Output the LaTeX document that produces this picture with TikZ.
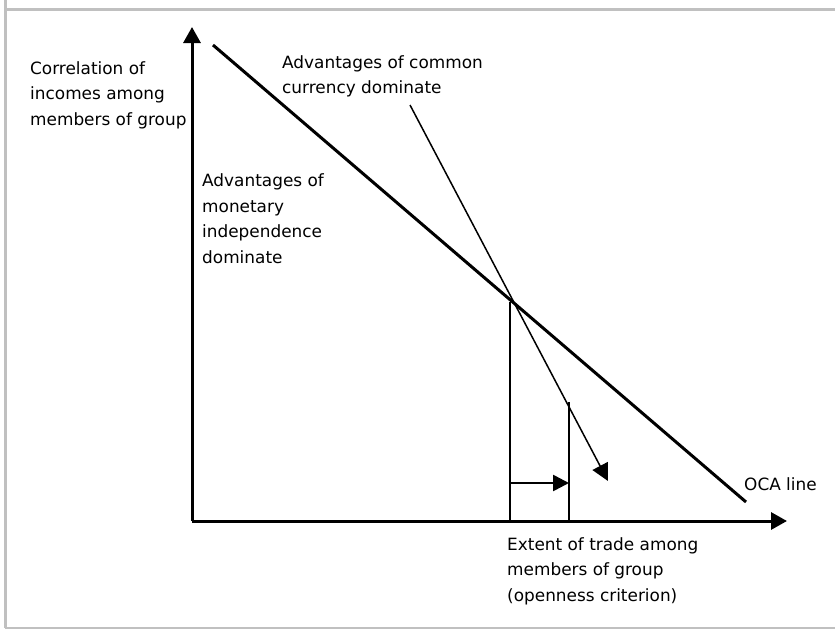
\documentclass[tikz,border=0pt]{standalone}
\usepackage{fontspec}
\setmainfont{DejaVu Sans}
\usetikzlibrary{arrows.meta}
\definecolor{framegray}{RGB}{192,192,192}
\tikzset{
  frameline/.style={draw=framegray, line width=3pt},
  axisline/.style={draw=black, line width=3pt, -{Triangle[length=16pt,width=17pt]}},
  thickline/.style={draw=black, line width=3pt},
  vline/.style={draw=black, line width=2.6pt},
  thinarrow/.style={draw=black, line width=1.5pt, -{Triangle[length=17pt,width=17pt]}},
  shiftarrow/.style={draw=black, line width=2.6pt, -{Triangle[length=16pt,width=16pt]}},
  lbl/.style={inner sep=0pt, align=left, anchor=base west, font=\fontsize{16.9}{25.4}\selectfont},
}
\begin{document}
\begin{tikzpicture}[x=1pt,y=-1pt]
\useasboundingbox (0,0) rectangle (835,629);
\fill[white] (0,0) rectangle (835,629);
% frame
\coordinate (f1) at (5,0);
\coordinate (f2) at (5,628);
\coordinate (f3) at (835,628);
\coordinate (f4) at (5,9);
\coordinate (f5) at (835,9);
\draw[frameline] (f1) -- (f2);
\draw[frameline, line width=2pt] (f2) -- (f3);
\draw[frameline] (f4) -- (f5);
% axes
\coordinate (O) at (192,521);
\coordinate (ytip) at (192,27);
\coordinate (xtip) at (787,521);
\draw[axisline] (O) -- (ytip);
\draw[axisline] (O) -- (xtip);
% OCA line
\coordinate (A) at (213,45);
\coordinate (B) at (746,502);
\draw[thickline] (A) -- (B);
% thin arrow
\coordinate (C) at (410,105);
\coordinate (D) at (608,481);
\draw[thinarrow] (C) -- (D);
% verticals
\coordinate (P) at (510,302);
\coordinate (Q1) at (510,521);
\coordinate (R) at (569,402);
\coordinate (Q2) at (569,521);
\draw[vline] (P) -- (Q1);
\draw[vline] (R) -- (Q2);
\coordinate (H1) at (510,483);
\coordinate (H2) at (569,483);
\draw[shiftarrow] (H1) -- (H2);
% labels (anchored at the baseline of the last line)
\node[lbl] (ylab) at (30,125) {Correlation of\\incomes among\\members of group};
\node[lbl] (common) at (282,93.5) {Advantages of common\\currency dominate};
\node[lbl] (monetary) at (202,263) {Advantages of\\monetary\\independence\\dominate};
\node[lbl] (oca) at (744,490) {OCA line};
\node[lbl] (xlab) at (507,601) {Extent of trade among\\members of group\\(openness criterion)};
\end{tikzpicture}
\end{document}
